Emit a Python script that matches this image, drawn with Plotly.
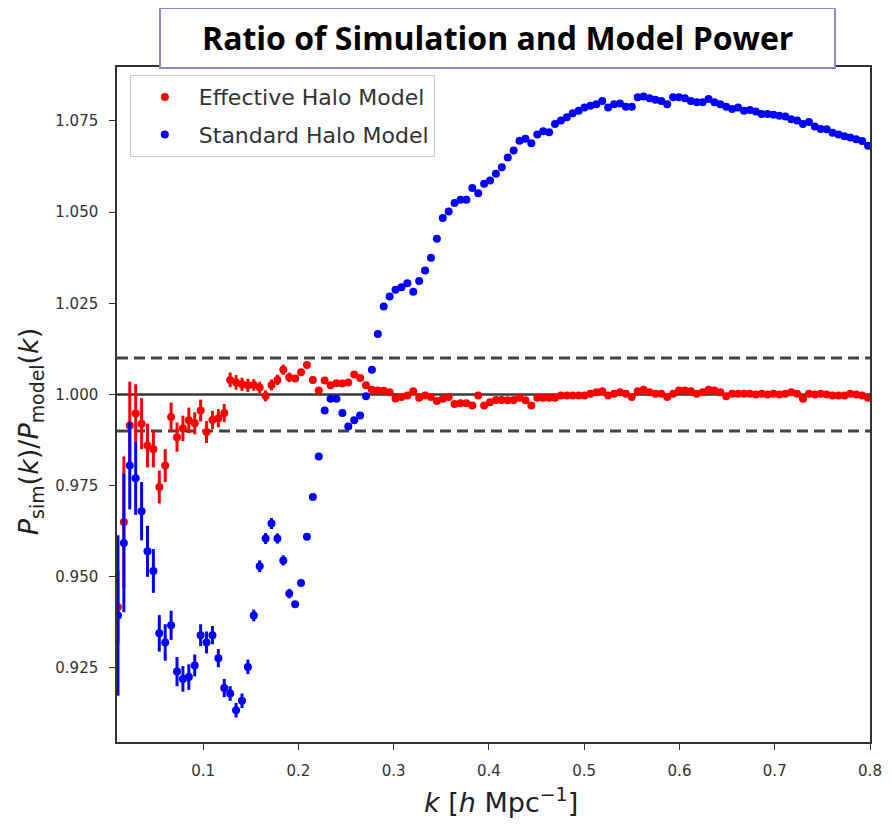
import plotly.graph_objects as go

# k bins [h/Mpc], shared by both series
k = [0.0105, 0.0167, 0.0229, 0.0291, 0.0353, 0.0415, 0.0477, 0.0539, 0.0601, 0.0663,
     0.0725, 0.0787, 0.0849, 0.0911, 0.0973, 0.1035, 0.1097, 0.1159, 0.1221, 0.1283,
     0.1345, 0.1407, 0.1469, 0.1531, 0.1593, 0.1655, 0.1717, 0.1779, 0.1841, 0.1903,
     0.1965, 0.2027, 0.2089, 0.2151, 0.2213, 0.2275, 0.2337, 0.2399, 0.2461, 0.2523,
     0.2585, 0.2647, 0.2709, 0.2771, 0.2833, 0.2895, 0.2957, 0.3019, 0.3081, 0.3143,
     0.3205, 0.3267, 0.3329, 0.3391, 0.3453, 0.3515, 0.3577, 0.3639, 0.3701, 0.3763,
     0.3825, 0.3887, 0.3949, 0.4011, 0.4073, 0.4135, 0.4197, 0.4259, 0.4321, 0.4383,
     0.4445, 0.4507, 0.4569, 0.4631, 0.4693, 0.4755, 0.4817, 0.4879, 0.4941, 0.5003,
     0.5065, 0.5127, 0.5189, 0.5251, 0.5313, 0.5375, 0.5437, 0.5499, 0.5561, 0.5623,
     0.5685, 0.5747, 0.5809, 0.5871, 0.5933, 0.5995, 0.6057, 0.6119, 0.6181, 0.6243,
     0.6305, 0.6367, 0.6429, 0.6491, 0.6553, 0.6615, 0.6677, 0.6739, 0.6801, 0.6863,
     0.6925, 0.6987, 0.7049, 0.7111, 0.7173, 0.7235, 0.7297, 0.7359, 0.7421, 0.7483,
     0.7545, 0.7607, 0.7669, 0.7731, 0.7793, 0.7855, 0.7917, 0.7979]

effective = [0.9417, 0.965, 0.9915, 0.9948, 0.992, 0.986, 0.985, 0.9746, 0.9805, 0.9938,
             0.9883, 0.9907, 0.9929, 0.9921, 0.9956, 0.9897, 0.993, 0.9935, 0.9949, 1.004,
             1.0033, 1.0028, 1.0025, 1.0026, 1.0019, 0.9996, 1.0026, 1.004, 1.0068, 1.0047,
             1.0044, 1.0061, 1.0081, 1.004, 1.0011, 1.0038, 1.0025, 1.0031, 1.003, 1.0033,
             1.0055, 1.0045, 1.0025, 1.0013, 1.0011, 1.001, 1.0006, 0.9989, 0.9993, 0.9997,
             1.0009, 0.9991, 0.9997, 0.9993, 0.9982, 0.9988, 0.9993, 0.9974, 0.9976, 0.9976,
             0.997, 0.9997, 0.997, 0.9979, 0.9985, 0.9985, 0.9984, 0.9985, 0.9991, 0.9984,
             0.997, 0.9991, 0.9991, 0.9991, 0.9991, 0.9997, 0.9997, 0.9997, 0.9997, 0.9997,
             1.0002, 1.0006, 1.0009, 0.9997, 1.0002, 1.0006, 1.0002, 0.9993, 1.0009, 1.0013,
             1.0006, 1.0002, 1.0002, 0.9993, 1.0002, 1.0011, 1.0011, 1.0009, 1.0002, 1.0006,
             1.0013, 1.0011, 1.0006, 0.9995, 1.0002, 1.0002, 1.0002, 1.0002, 1.0, 1.0002,
             1.0, 1.0002, 1.0, 1.0002, 1.0006, 1.0002, 0.9988, 1.0002, 1.0, 1.0002,
             1.0, 0.9997, 0.9997, 0.9997, 1.0002, 1.0, 0.9997, 0.9991]
effective_err = [0.010, 0.018, 0.012, 0.008, 0.007, 0.006, 0.005, 0.0045, 0.0045, 0.004,
                 0.004, 0.0035, 0.0035, 0.003, 0.003, 0.003, 0.0025, 0.0025, 0.0025, 0.002,
                 0.002, 0.0018, 0.0018, 0.0016, 0.0016, 0.0015, 0.0015, 0.0014, 0.0014, 0.0013]

standard = [0.9394, 0.9593, 0.9805, 0.977, 0.968, 0.957, 0.9516, 0.9345, 0.932, 0.9367,
            0.924, 0.922, 0.9225, 0.9257, 0.934, 0.932, 0.934, 0.9277, 0.9195, 0.918,
            0.9134, 0.916, 0.9253, 0.9394, 0.9529, 0.9605, 0.9646, 0.9605, 0.9545, 0.9454,
            0.9425, 0.9483, 0.961, 0.9719, 0.983, 0.9956, 0.9988, 0.9988, 0.9949, 0.9912,
            0.9929, 0.9942, 0.9995, 1.0068, 1.0166, 1.0241, 1.0269, 1.0287, 1.0294, 1.0305,
            1.0282, 1.0311, 1.034, 1.0375, 1.0427, 1.0484, 1.0502, 1.0525, 1.0534, 1.0534,
            1.0566, 1.0552, 1.0578, 1.0587, 1.0605, 1.0623, 1.065, 1.0669, 1.0696, 1.0701,
            1.0689, 1.0713, 1.0722, 1.0719, 1.0742, 1.0751, 1.076, 1.0771, 1.0778, 1.0787,
            1.0792, 1.0796, 1.0805, 1.0787, 1.0796, 1.0798, 1.0789, 1.0789, 1.0815, 1.0817,
            1.0812, 1.0808, 1.0805, 1.0796, 1.0815, 1.0815, 1.0812, 1.0805, 1.0801, 1.0801,
            1.081, 1.0801, 1.0796, 1.0789, 1.0783, 1.0787, 1.0778, 1.078, 1.0776, 1.0769,
            1.0769, 1.0767, 1.0764, 1.0762, 1.0755, 1.0751, 1.0742, 1.0747, 1.0735, 1.0728,
            1.0727, 1.0718, 1.0713, 1.0708, 1.0705, 1.07, 1.0695, 1.0682]
standard_err = [0.022, 0.019, 0.012, 0.010, 0.008, 0.007, 0.006, 0.005, 0.005, 0.004,
                0.004, 0.0035, 0.0035, 0.003, 0.003, 0.003, 0.0025, 0.0025, 0.0025, 0.002,
                0.002, 0.002, 0.002, 0.0016, 0.0016, 0.0015, 0.0015, 0.0014, 0.0014, 0.0013]

ref_solid = [1.0]
ref_dashed = [0.99, 1.01]
y_ticks = [0.925, 0.950, 0.975, 1.000, 1.025, 1.050, 1.075]
x_ticks = [0.1, 0.2, 0.3, 0.4, 0.5, 0.6, 0.7, 0.8]

FONT = 'DejaVu Sans'

fig = go.Figure()
fig.add_trace(go.Scatter(x=k, y=effective, mode='markers', name='Effective Halo Model',
                         legendgroup='eff',
                         marker=dict(color='#ff0000', size=8),
                         error_y=dict(type='data', array=effective_err, color='#ff0000',
                                      thickness=3, width=0)))
fig.add_trace(go.Scatter(x=k, y=standard, mode='markers', name='Standard Halo Model',
                         legendgroup='std',
                         marker=dict(color='#0000ff', size=8),
                         error_y=dict(type='data', array=standard_err, color='#0000ff',
                                      thickness=3, width=0)))

for lvl in ref_solid:
    fig.add_hline(y=lvl, line=dict(color='#3a3a3a', width=2.5), layer='below')
for lvl in ref_dashed:
    fig.add_hline(y=lvl, line=dict(color='#444444', width=3, dash='11px,6px'), layer='below')

# title sits in a framed box overlapping the top of the axes
fig.add_shape(type='rect', xref='paper', yref='paper', x0=0.0571, x1=0.9535, y0=0.9985, y1=1.0874,
              fillcolor='white', line=dict(color='#8c8cc8', width=2), layer='above')
fig.add_annotation(xref='paper', yref='paper', x=0.5053, y=1.043, xanchor='center', yanchor='middle',
                   showarrow=False, text='<b>Ratio of Simulation and Model Power</b>',
                   font=dict(family='Open Sans', size=32, color='black'))

# axis titles as annotations so they sit where the original puts them
fig.add_annotation(xref='paper', yref='paper', x=-0.1155, y=0.459, xanchor='center', yanchor='middle',
                   textangle=-90, showarrow=False,
                   text='<i>P</i><sub>sim</sub>(<i>k</i>)/<i>P</i><sub>model</sub>(<i>k</i>)',
                   font=dict(family=FONT, size=27, color='#222222'))
fig.add_annotation(xref='paper', yref='paper', x=0.51, y=-0.086, xanchor='center', yanchor='middle',
                   showarrow=False, text='<i>k</i> [<i>h</i> Mpc<sup>−1</sup>]',
                   font=dict(family=FONT, size=27, color='#222222'))

axis_common = dict(showline=True, mirror=True, linecolor='#333333', linewidth=1.5,
                   showgrid=False, zeroline=False, ticks='outside', ticklen=6,
                   tickcolor='#333333', ticklabelstandoff=8,
                   tickfont=dict(family=FONT, size=15, color='#333333'))

fig.update_xaxes(range=[0.0095, 0.8], tickvals=x_ticks, ticktext=[str(t) for t in x_ticks],
                 **axis_common)
fig.update_yaxes(range=[0.9047, 1.0898], tickvals=y_ticks, tickformat='.3f', **axis_common)

# the page body adds an 8px offset, so the figure is 8px smaller than the window
fig.update_layout(width=884, height=822, template='none',
                  paper_bgcolor='white', plot_bgcolor='white',
                  margin=dict(l=109, r=22, t=59, b=88),
                  legend=dict(x=0.017, y=0.988, xanchor='left', yanchor='top',
                              bgcolor='white', bordercolor='#cccccc', borderwidth=1,
                              itemwidth=58, tracegroupgap=6,
                              font=dict(family=FONT, size=22, color='#333333')),
                  showlegend=True)

fig.write_html("out.html")
